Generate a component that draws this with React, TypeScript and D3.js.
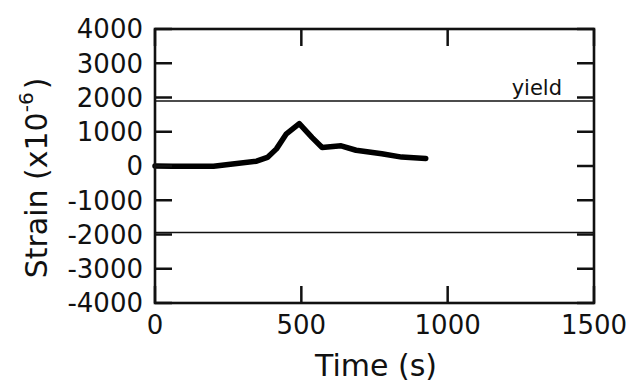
import React from "react";
import * as d3 from "d3";

const timeS = [0, 60, 130, 200, 265, 347, 384, 415, 449, 493, 537, 571, 636, 687, 775, 843, 925];
const strain = [0, -5, -10, -10, 60, 140, 250, 500, 940, 1240, 830, 540, 590, 460, 360, 260, 220];
const yieldLevels = [1900, -1940];
const xTicks = [0, 500, 1000, 1500];
const yTicks = [4000, 3000, 2000, 1000, 0, -1000, -2000, -3000, -4000];

const W = 634, H = 386;
const L = 155, R = 594, T = 29, B = 303;

export default function App() {
  const x = d3.scaleLinear().domain([0, 1500]).range([L, R]);
  const y = d3.scaleLinear().domain([-4000, 4000]).range([B, T]);
  const pts = timeS.map((t, i) => [t, strain[i]] as [number, number]);
  const line = d3.line<[number, number]>().x(d => x(d[0])).y(d => y(d[1])).curve(d3.curveLinear);
  const font = "'DejaVu Sans', 'Liberation Sans', Arial, sans-serif";
  const tl = 17;
  return (
    <svg width={W} height={H} style={{ position: "absolute", left: 0, top: 0, background: "#fff" }}>
      <g fontFamily={font} fill="#111">
        {yieldLevels.map((v, i) => (
          <line key={i} x1={L} x2={R} y1={y(v)} y2={y(v)} stroke="#111" strokeWidth={1.6} />
        ))}
        <text x={562} y={95} fontSize={21} textAnchor="end">yield</text>
        <path d={line(pts) || ""} fill="none" stroke="#000" strokeWidth={5.5} strokeLinejoin="round" strokeLinecap="round" />
        <rect x={L} y={T} width={R - L} height={B - T} fill="none" stroke="#111" strokeWidth={2.6} />
        {yTicks.map(v => (
          <g key={v}>
            <line x1={L} x2={L + tl} y1={y(v)} y2={y(v)} stroke="#111" strokeWidth={2.5} />
            <line x1={R} x2={R - tl} y1={y(v)} y2={y(v)} stroke="#111" strokeWidth={2.5} />
            <text x={L - 12} y={y(v)} dy="0.36em" fontSize={26} textAnchor="end">{v}</text>
          </g>
        ))}
        {xTicks.map(v => (
          <g key={v}>
            <line x1={x(v)} x2={x(v)} y1={B} y2={B - tl} stroke="#111" strokeWidth={2.5} />
            <line x1={x(v)} x2={x(v)} y1={T} y2={T + tl} stroke="#111" strokeWidth={2.5} />
            <text x={x(v)} y={334} fontSize={26} textAnchor="middle">{v}</text>
          </g>
        ))}
        <text x={376} y={376} fontSize={30} textAnchor="middle">Time (s)</text>
        <text transform={`translate(47, 178) rotate(-90)`} fontSize={30} textAnchor="middle">
          Strain (x10<tspan dy={-14} fontSize={20}>-6</tspan><tspan dy={14} dx={3}>)</tspan>
        </text>
      </g>
    </svg>
  );
}
